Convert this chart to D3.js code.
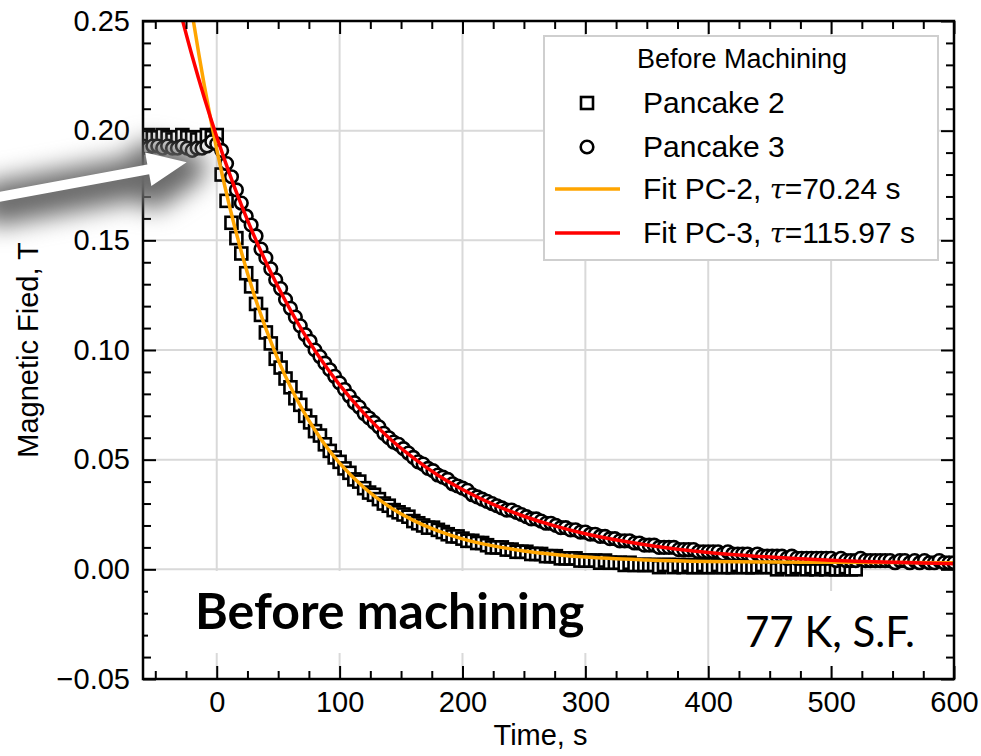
<!DOCTYPE html>
<meta charset="utf-8">
<style>
body { margin: 0; background: #fff; }
.axis text { font: 29px "Liberation Sans", Arial, sans-serif; fill: #000; }
.axis line { stroke: #000; stroke-width: 2px; }
.grid line { stroke: #d9d9d9; stroke-width: 2px; }
.frame { fill: none; stroke: #000; stroke-width: 2.5px; }
.pc2, .pc3 { fill: #fff; stroke: #000; stroke-width: 2.6px; }
.fit2 { fill: none; stroke: #ffa500; stroke-width: 3.5px; }
.fit3 { fill: none; stroke: #ff0000; stroke-width: 3.5px; }
.label { font: 29px "Liberation Sans", Arial, sans-serif; fill: #000; }
.legend text { font: 30px "Liberation Sans", Arial, sans-serif; fill: #000; }
.legend .title { font-size: 27px; }
.note { font-family: Lato, "Open Sans", sans-serif; fill: #000; }
</style>
<svg width="981" height="756"></svg>
<script src="https://d3js.org/d3.v7.min.js"></script>
<script>
// sampled every 4 s starting at t = -60 s
var sampleStart = -60, sampleStep = 4;

// Pancake 2 (squares), T
var pc2Values = [
  0.197,0.198,0.197,0.197,0.198,0.197,0.196,0.197,0.198,0.197,0.197,0.196,0.197,0.198,0.197,0.198,
  0.180,0.168,0.158,0.151,0.144,0.135,0.129,0.121,0.116,0.108,
  0.103,0.096,0.092,0.087,0.083,0.078,0.075,0.070,0.067,0.063,
  0.061,0.057,0.054,0.051,0.049,0.046,0.044,0.041,0.040,0.037,
  0.035,0.034,0.032,0.030,0.029,0.027,0.026,0.025,0.024,0.022,
  0.021,0.020,0.019,0.019,0.018,0.017,0.016,0.015,0.015,0.014,
  0.013,0.013,0.012,0.012,0.011,0.010,0.010,0.010,0.009,0.009,
  0.008,0.008,0.008,0.007,0.007,0.007,0.006,0.006,0.006,0.005,
  0.005,0.005,0.005,0.004,0.004,0.004,0.004,0.003,0.004,0.003,
  0.003,0.003,0.002,0.003,0.002,0.002,0.002,0.002,0.002,0.001,
  0.002,0.002,0.001,0.002,0.001,0.002,0.001,0.001,0.002,0.001,
  0.001,0.002,0.001,0.001,0.001,0.002,0.001,0.001,0.001,0.001,
  0.002,0.001,0.001,0.000,0.001,0.001,0.000,0.001,0.001,0.000,
  0.001,0.000,0.001,0.000,0.001,0.000,0.000,0.001,0.000,0.000
];

// Pancake 3 (circles), T
var pc3Values = [
  0.193,0.192,0.193,0.193,0.192,0.193,0.192,0.192,0.193,0.192,0.191,0.192,0.192,0.193,0.195,0.194,
  0.191,0.185,0.179,0.173,0.167,0.161,0.157,0.152,0.146,0.142,
  0.137,0.132,0.128,0.123,0.119,0.115,0.111,0.107,0.104,0.100,
  0.097,0.094,0.091,0.088,0.085,0.082,0.079,0.076,0.074,0.071,
  0.069,0.067,0.065,0.062,0.060,0.058,0.057,0.055,0.053,0.051,
  0.049,0.048,0.046,0.045,0.043,0.042,0.041,0.039,0.038,0.037,
  0.036,0.034,0.033,0.032,0.031,0.030,0.029,0.028,0.027,0.027,
  0.026,0.025,0.024,0.023,0.023,0.022,0.021,0.021,0.020,0.019,
  0.019,0.018,0.018,0.017,0.017,0.016,0.016,0.015,0.015,0.014,
  0.014,0.013,0.013,0.013,0.012,0.012,0.011,0.011,0.011,0.010,
  0.010,0.010,0.010,0.009,0.009,0.009,0.009,0.008,0.008,0.008,
  0.008,0.008,0.007,0.008,0.007,0.007,0.007,0.007,0.006,0.007,
  0.006,0.006,0.006,0.006,0.006,0.005,0.006,0.005,0.005,0.005,
  0.005,0.005,0.005,0.005,0.005,0.004,0.005,0.004,0.004,0.004,
  0.005,0.004,0.004,0.004,0.004,0.004,0.004,0.003,0.004,0.004,
  0.003,0.004,0.003,0.004,0.003,0.003,0.004,0.003,0.003,0.003
];

// fit curves
var fitTimes = [-30,-20,-10,0,10,20,30,40,50,60,70,80,90,100,120,140,160,180,200,225,250,275,300,350,400,450,500,550,600];
var fitPC2 = [0.2919,0.2536,0.2203,0.1915,0.1665,0.1448,0.1260,0.1097,0.0955,0.0832,0.0726,0.0634,0.0553,0.0484,0.0372,0.0287,0.0223,0.0175,0.0139,0.0107,0.0084,0.0068,0.0056,0.0043,0.0036,0.0033,0.0032,0.0031,0.0030];
var fitPC3 = [0.2550,0.2340,0.2148,0.1972,0.1810,0.1662,0.1526,0.1401,0.1287,0.1182,0.1085,0.0997,0.0916,0.0841,0.0710,0.0600,0.0508,0.0429,0.0364,0.0296,0.0242,0.0198,0.0162,0.0111,0.0077,0.0056,0.0041,0.0032,0.0026];

var xTicks = [0,100,200,300,400,500,600];
var yTicks = [-0.05,0,0.05,0.10,0.15,0.20,0.25];
var legendTitle = "Before Machining";
var legendNames = ["Pancake 2","Pancake 3","Fit PC-2, ","Fit PC-3, "];
var tauValues = ["=70.24 s","=115.97 s"];

var svg = d3.select("svg"),
    margin = {top: 21, right: 27, bottom: 77, left: 143},
    width = +svg.attr("width") - margin.left - margin.right,
    height = +svg.attr("height") - margin.top - margin.bottom,
    g = svg.append("g").attr("transform", "translate(" + margin.left + "," + margin.top + ")");

var x = d3.scaleLinear().domain([-60, 600]).range([0, width]);
var y = d3.scaleLinear().domain([-0.05, 0.25]).range([height, 0]);

var defs = svg.append("defs");
defs.append("clipPath").attr("id", "clip")
  .append("rect").attr("width", width).attr("height", height);
defs.append("filter").attr("id", "blur")
  .attr("filterUnits", "userSpaceOnUse")
  .attr("x", -100).attr("y", 40).attr("width", 420).attr("height", 300)
  .attr("color-interpolation-filters", "sRGB")
  .append("feGaussianBlur").attr("stdDeviation", 12);

// grid
var grid = g.append("g").attr("class", "grid");
grid.selectAll(".gx").data(xTicks.filter(function(d) { return d < 600; }))
  .enter().append("line")
    .attr("x1", function(d) { return x(d); }).attr("x2", function(d) { return x(d); })
    .attr("y1", 0).attr("y2", height);
grid.selectAll(".gy").data(yTicks.filter(function(d) { return d > -0.05 && d < 0.25; }))
  .enter().append("line")
    .attr("x1", 0).attr("x2", width)
    .attr("y1", function(d) { return y(d); }).attr("y2", function(d) { return y(d); });

// white text boxes of the annotations
svg.append("rect").attr("x", 148).attr("y", 571).attr("width", 452).attr("height", 82).attr("fill", "#fff");
svg.append("rect").attr("x", 733).attr("y", 591).attr("width", 195).attr("height", 75).attr("fill", "#fff");

// data
var plot = g.append("g").attr("clip-path", "url(#clip)");
var tOf = function(i) { return sampleStart + sampleStep * i; };

plot.selectAll(".pc2").data(pc2Values).enter().append("rect")
    .attr("class", "pc2")
    .attr("x", function(d, i) { return x(tOf(i)) - 6; })
    .attr("y", function(d) { return y(d) - 6; })
    .attr("width", 12).attr("height", 12);

plot.selectAll(".pc3").data(pc3Values).enter().append("circle")
    .attr("class", "pc3")
    .attr("cx", function(d, i) { return x(tOf(i)); })
    .attr("cy", function(d) { return y(d); })
    .attr("r", 6.3);

var line = d3.line()
    .x(function(d) { return x(d[0]); })
    .y(function(d) { return y(d[1]); })
    .curve(d3.curveMonotoneX);

plot.append("path").attr("class", "fit2")
    .attr("d", line(fitTimes.map(function(t, i) { return [t, fitPC2[i]]; })));
plot.append("path").attr("class", "fit3")
    .attr("d", line(fitTimes.map(function(t, i) { return [t, fitPC3[i]]; })));

// axes, ticks inward on all four sides
var xMinor = d3.range(-50, 600, 25).filter(function(d) { return d % 100 !== 0; });
var yMinor = d3.range(-4, 25).map(function(d) { return d / 100; }).filter(function(d) { return Math.round(d * 100) % 5 !== 0; });

function axisPair(axisFn, scale, major, minor, labels, pos) {
  var a = g.append("g").attr("class", "axis").attr("transform", pos);
  var ax = axisFn(scale).tickValues(major).tickSize(-13);
  if (labels) ax.tickFormat(labels); else ax.tickFormat("");
  a.call(ax);
  a.append("g").call(axisFn(scale).tickValues(minor).tickSize(-8).tickFormat(""));
  a.selectAll(".domain").remove();
  return a;
}

axisPair(d3.axisBottom, x, xTicks, xMinor, d3.format("d"), "translate(0," + height + ")")
  .selectAll("text").attr("y", 12).attr("dy", "0.71em");
axisPair(d3.axisTop, x, xTicks, xMinor, null, "translate(0,0)");
axisPair(d3.axisLeft, y, yTicks, yMinor, d3.format(".2f"), "translate(0,0)")
  .selectAll("text").attr("x", -13);
axisPair(d3.axisRight, y, yTicks, yMinor, null, "translate(" + width + ",0)");

g.append("rect").attr("class", "frame").attr("width", width).attr("height", height);

// axis titles
svg.append("text").attr("class", "label")
    .attr("x", margin.left + width / 2 - 8).attr("y", 745)
    .attr("text-anchor", "middle").text("Time, s");
svg.append("text").attr("class", "label")
    .attr("transform", "translate(38," + (margin.top + height / 2) + ") rotate(-90)")
    .attr("text-anchor", "middle").text("Magnetic Fied, T");

// legend
var lg = svg.append("g").attr("class", "legend");
lg.append("rect").attr("x", 544).attr("y", 36).attr("width", 394).attr("height", 224)
    .attr("fill", "#fff").attr("stroke", "#cfcfcf").attr("stroke-width", 2);
lg.append("text").attr("class", "title").attr("x", 742).attr("y", 68)
    .attr("text-anchor", "middle").text(legendTitle);

var rowY = [113, 157, 199, 243];
lg.append("rect").attr("class", "pc2").attr("x", 581).attr("y", rowY[0] - 16).attr("width", 12).attr("height", 12);
lg.append("circle").attr("class", "pc3").attr("cx", 587).attr("cy", rowY[1] - 10).attr("r", 6.3);
lg.append("line").attr("class", "fit2").attr("x1", 555).attr("x2", 620).attr("y1", rowY[2] - 10).attr("y2", rowY[2] - 10);
lg.append("line").attr("class", "fit3").attr("x1", 555).attr("x2", 620).attr("y1", rowY[3] - 10).attr("y2", rowY[3] - 10);

legendNames.forEach(function(name, i) {
  var t = lg.append("text").attr("x", 643).attr("y", rowY[i]).text(name);
  if (i >= 2) {
    t.append("tspan").attr("font-style", "italic").attr("font-family", "'DejaVu Serif', serif").attr("font-size", "27px").text("τ");
    t.append("tspan").text(tauValues[i - 2]);
  }
});

// annotations
svg.append("text").attr("class", "note").attr("x", 195).attr("y", 629)
    .attr("font-weight", "bold").attr("font-size", "50px").text("Before machining");
svg.append("text").attr("class", "note").attr("x", 745).attr("y", 647)
    .attr("font-size", "42px").text("77 K, S.F.");

// white arrow with blurred shadow, pointing at the initial plateau
var tail = [margin.left + x(-180), margin.top + y(0.1695)],
    tip = [margin.left + x(-24.5), margin.top + y(0.1856)];
var dx = tip[0] - tail[0], dy = tip[1] - tail[1], len = Math.sqrt(dx * dx + dy * dy);
var ux = dx / len, uy = dy / len, nx = -uy, ny = ux;
var headLen = 39, headW = 17, shaftW = 5;
var base = [tip[0] - ux * headLen, tip[1] - uy * headLen];
function pt(p, k) { return [p[0] + nx * k, p[1] + ny * k]; }
var arrowPts = [pt(tail, -shaftW), pt(base, -shaftW), pt(base, -headW), tip,
                pt(base, headW), pt(base, shaftW), pt(tail, shaftW)];

svg.append("polygon")
    .attr("points", arrowPts.map(function(p) { return (p[0] + 2) + "," + (p[1] + 6); }).join(" "))
    .attr("fill", "#6a6a6a").attr("stroke", "#6a6a6a").attr("stroke-width", 34)
    .attr("stroke-linejoin", "round").attr("filter", "url(#blur)");
svg.append("polygon")
    .attr("points", arrowPts.map(function(p) { return p.join(","); }).join(" "))
    .attr("fill", "#fff");
</script>
